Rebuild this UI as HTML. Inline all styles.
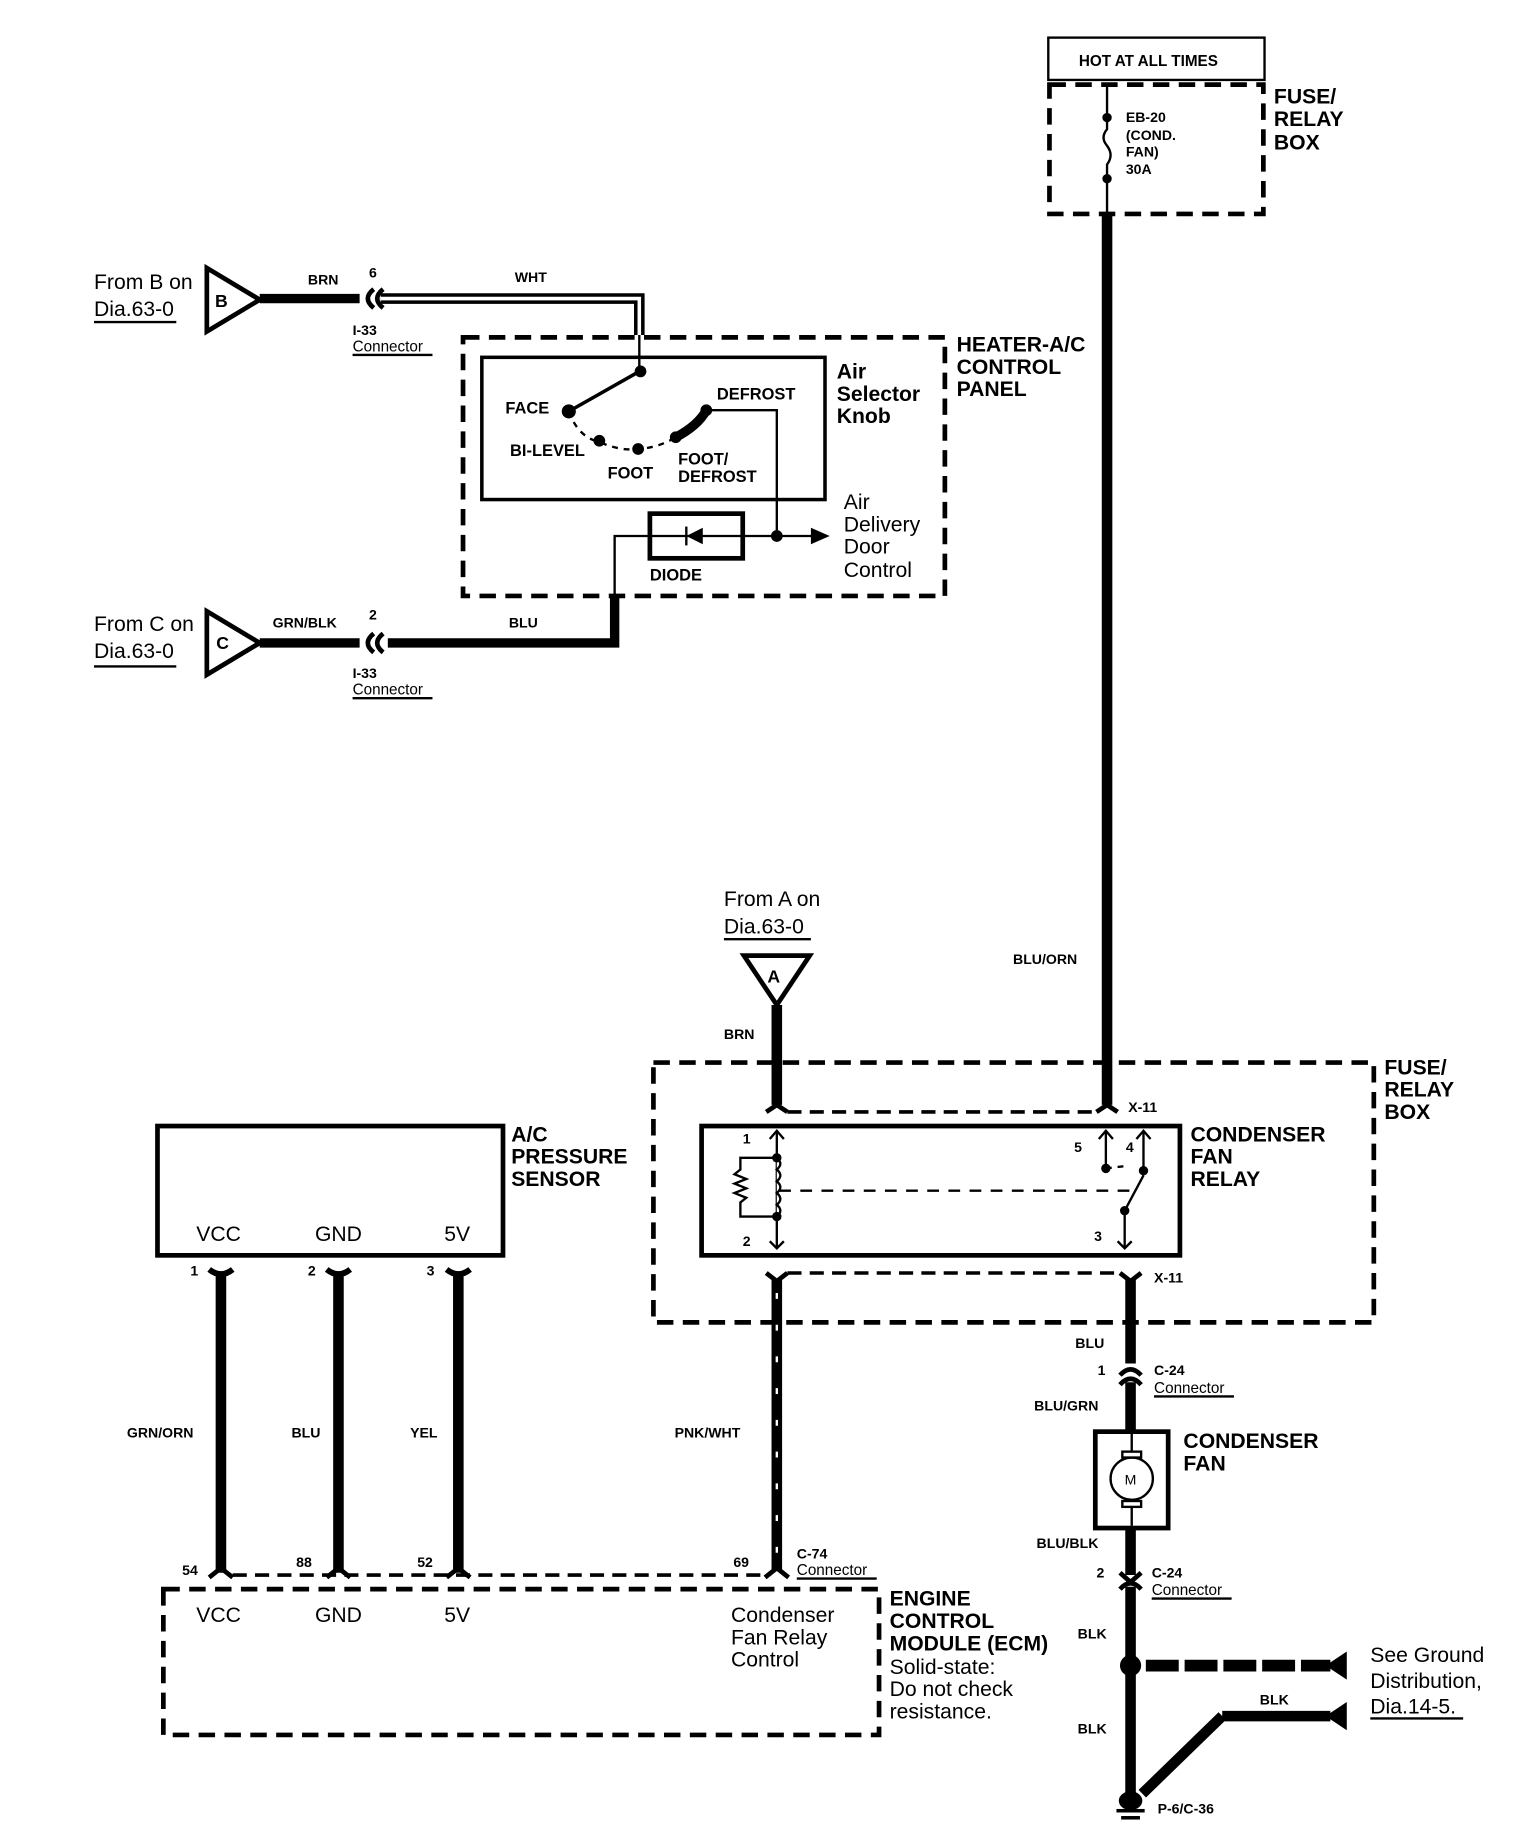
<!DOCTYPE html>
<html><head><meta charset="utf-8"><style>
html,body{margin:0;padding:0;background:#fff;}
svg{display:block;}
text{font-family:"Liberation Sans",Arial,sans-serif;fill:#000;}
.b{font-weight:bold;font-size:14px;}
.s{font-weight:bold;font-size:12px;}
.L{font-weight:bold;font-size:18px;}
.r{font-size:18px;}
.c{font-size:13px;}
</style></head><body>
<svg width="1536" height="1836" viewBox="0 0 1307 1562" preserveAspectRatio="none" xmlns="http://www.w3.org/2000/svg">
<g fill="none" stroke="#000">
<rect x="892" y="32" width="184" height="36" stroke-width="2"/>
<rect x="893" y="72" width="182" height="110" stroke-width="4" stroke-dasharray="14,8"/>
<line x1="942" y1="72" x2="942" y2="100" stroke-width="2"/>
<path d="M942,100 L942,110 Q936,117 942,124 Q948,132 942,140 L942,152" stroke-width="2"/>
<line x1="942" y1="152" x2="942" y2="182" stroke-width="2"/>
<line x1="942" y1="182" x2="942" y2="940" stroke-width="9"/>

<polygon points="176,228 176,282 221,255" stroke-width="4"/>
<line x1="221" y1="254" x2="306" y2="254" stroke-width="8"/>
<path d="M318,246 Q308,254 318,262" stroke-width="4"/>
<path d="M326,246 Q316,254 326,262" stroke-width="4"/>
<path d="M324,254 L544,254 L544,285" stroke-width="9"/>
<path d="M324,254 L544,254 L544,285" stroke="#fff" stroke-width="3"/>
<line x1="544" y1="285" x2="544" y2="316" stroke-width="2"/>

<rect x="394" y="287" width="410" height="220" stroke-width="4" stroke-dasharray="14,8"/>
<rect x="410" y="304" width="292" height="121" stroke-width="3"/>
<line x1="544" y1="316" x2="484" y2="350" stroke-width="3"/>
<path d="M484,350 Q492,372 510,376 Q528,384 543,382 Q560,381 575,372" stroke-width="2" stroke-dasharray="5,5"/>
<path d="M575,372 Q594,362 601,349" stroke-width="8"/>
<path d="M601,349 L661,349 L661,456" stroke-width="2"/>
<rect x="553" y="437" width="79" height="38" stroke-width="4"/>
<path d="M523,510 L523,456 L700,456" stroke-width="2"/>
<path d="M523,507 L523,547 L330,547" stroke-width="8"/>
<path d="M318,539 Q308,547 318,555" stroke-width="4"/>
<path d="M326,539 Q316,547 326,555" stroke-width="4"/>
<polygon points="176,520 176,574 221,547" stroke-width="4"/>
<line x1="221" y1="547" x2="306" y2="547" stroke-width="8"/>

<polygon points="633,813 689,813 661,855" stroke-width="4"/>
<line x1="661" y1="855" x2="661" y2="940" stroke-width="9"/>

<rect x="556" y="904" width="613" height="221" stroke-width="4" stroke-dasharray="14,8"/>
<line x1="670" y1="946" x2="934" y2="946" stroke-width="3" stroke-dasharray="12,7"/>
<line x1="670" y1="1083" x2="954" y2="1083" stroke-width="3" stroke-dasharray="12,7"/>
<rect x="597" y="958" width="407" height="110" stroke-width="4"/>
<path d="M652,946 L661,940 L670,946" stroke-width="4"/>
<path d="M933,946 L942,940 L951,946" stroke-width="4"/>
<line x1="661" y1="962" x2="661" y2="1062" stroke-width="2"/>
<path d="M655,969 L661,962 L667,969 M655,1056 L661,1062 L667,1056" stroke-width="2"/>
<path d="M661,985 q6,5 0,10 q6,5 0,10 q6,5 0,10 q6,5 0,10 q6,5 0,10" stroke-width="2" fill="#fff"/>
<path d="M661,985 L630,985 L630,995 l-5,4 l10,4 l-10,4 l10,4 l-10,4 l10,4 l-5,4 L630,1035 L661,1035" stroke-width="2"/>
<line x1="663" y1="1013" x2="966" y2="1013" stroke-width="2" stroke-dasharray="10,8"/>
<path d="M941,962 L941,994 M935,969 L941,962 L947,969" stroke-width="2"/>
<path d="M941,994 L958,992" stroke-width="2" stroke-dasharray="5,5"/>
<path d="M973,962 L973,1000 M967,969 L973,962 L979,969" stroke-width="2"/>
<line x1="973" y1="1000" x2="957" y2="1030" stroke-width="2"/>
<path d="M957,1030 L957,1062 M951,1056 L957,1062 L963,1056" stroke-width="2"/>
<path d="M652,1083 L661,1090 L670,1083" stroke-width="4"/>
<path d="M953,1083 L962,1090 L971,1083" stroke-width="4"/>
<line x1="661" y1="1088" x2="661" y2="1336" stroke-width="9"/>
<line x1="661" y1="1100" x2="661" y2="1330" stroke="#fff" stroke-width="2" stroke-dasharray="5,22"/>
<line x1="962" y1="1088" x2="962" y2="1160" stroke-width="9"/>

<path d="M953,1170 Q962,1160 971,1170" stroke-width="4"/>
<path d="M953,1178 Q962,1168 971,1178" stroke-width="4"/>
<line x1="962" y1="1176" x2="962" y2="1218" stroke-width="9"/>
<rect x="932" y="1218" width="62" height="82" stroke-width="4"/>
<line x1="963" y1="1220" x2="963" y2="1298" stroke-width="2"/>
<circle cx="963" cy="1258" r="18" fill="#fff" stroke-width="2"/>
<rect x="955" y="1235" width="16" height="5" fill="#fff" stroke-width="2"/>
<rect x="955" y="1277" width="16" height="5" fill="#fff" stroke-width="2"/>
<line x1="962" y1="1300" x2="962" y2="1340" stroke-width="9"/>
<path d="M953,1338 L962,1346 L971,1338" stroke-width="4"/>
<path d="M953,1352 Q962,1342 971,1352" stroke-width="4"/>
<line x1="962" y1="1350" x2="962" y2="1528" stroke-width="9"/>
<line x1="975" y1="1417" x2="1132" y2="1417" stroke-width="10" stroke-dasharray="28,5"/>
<path d="M1040,1460 L1132,1460" stroke-width="9"/>
<path d="M972,1526 L1040,1460" stroke-width="9"/>

<rect x="134" y="958" width="294" height="110" stroke-width="4"/>
<line x1="188" y1="1086" x2="188" y2="1338" stroke-width="9"/>
<line x1="288" y1="1086" x2="288" y2="1338" stroke-width="9"/>
<line x1="390" y1="1086" x2="390" y2="1338" stroke-width="9"/>
<path d="M178,1080 Q188,1088 198,1080 M278,1080 Q288,1088 298,1080 M380,1080 Q390,1088 400,1080" stroke-width="5"/>
<path d="M178,1342 L188,1334 L198,1342 M278,1342 L288,1334 L298,1342 M380,1342 L390,1334 L400,1342 M651,1342 L661,1334 L671,1342" stroke-width="4"/>
<line x1="198" y1="1340" x2="652" y2="1340" stroke-width="3" stroke-dasharray="12,7"/>
<rect x="139" y="1352" width="609" height="124" stroke-width="4" stroke-dasharray="14,8"/>

<path d="M80,274 H150 M80,567 H150 M300,302 H368 M300,594 H368 M616,799 H690 M678,1343 H746 M982,1188 H1050 M980,1360 H1048 M1166,1462 H1245" stroke-width="2"/>
</g>
<g fill="#000">
<circle cx="942" cy="100" r="4"/><circle cx="942" cy="152" r="4"/>
<circle cx="545" cy="316" r="5"/><circle cx="484" cy="350" r="6"/><circle cx="510" cy="375" r="5"/><circle cx="543" cy="382" r="5"/><circle cx="575" cy="372" r="5"/><circle cx="601" cy="349" r="5"/>
<circle cx="661" cy="456" r="5"/>
<polygon points="690,449 706,456 690,463"/>
<polygon points="584,456 598,449 598,463"/><rect x="583" y="448" width="2" height="16"/>
<circle cx="661" cy="985" r="4"/><circle cx="661" cy="1035" r="4"/>
<circle cx="941" cy="994" r="4"/><circle cx="973" cy="996" r="4"/><circle cx="957" cy="1030" r="4"/>
<circle cx="962" cy="1417" r="9"/>
<polygon points="1128,1417 1146,1405 1146,1429"/>
<polygon points="1128,1460 1146,1448 1146,1472"/>
<ellipse cx="962" cy="1532" rx="10" ry="8"/>
<rect x="950" y="1539" width="24" height="3"/><rect x="954" y="1545" width="16" height="3"/>
</g>
<text class="c" x="918" y="56" style="font-weight:bold;font-size:13px">HOT AT ALL TIMES</text>
<text class="s" x="958" y="104">EB-20</text>
<text class="s" x="958" y="119">(COND.</text>
<text class="s" x="958" y="133">FAN)</text>
<text class="s" x="958" y="148">30A</text>
<text class="L" x="1084" y="88">FUSE/</text><text class="L" x="1084" y="107">RELAY</text><text class="L" x="1084" y="127">BOX</text>
<text class="r" x="80" y="246">From B on</text><text class="r" x="80" y="269">Dia.63-0</text>
<text class="b" x="183" y="261" style="font-size:15px">B</text>
<text class="s" x="262" y="242">BRN</text><text class="s" x="314" y="236">6</text>
<text class="s" x="438" y="240">WHT</text>
<text class="s" x="300" y="285">I-33</text><text class="c" x="300" y="299">Connector</text>
<text class="L" x="814" y="299">HEATER-A/C</text><text class="L" x="814" y="318">CONTROL</text><text class="L" x="814" y="337">PANEL</text>
<text class="L" x="712" y="322">Air</text><text class="L" x="712" y="341">Selector</text><text class="L" x="712" y="360">Knob</text>
<text class="b" x="430" y="352">FACE</text>
<text class="b" x="610" y="340">DEFROST</text>
<text class="b" x="434" y="388">BI-LEVEL</text>
<text class="b" x="517" y="407">FOOT</text>
<text class="b" x="577" y="395">FOOT/</text><text class="b" x="577" y="410">DEFROST</text>
<text class="b" x="553" y="494">DIODE</text>
<text class="r" x="718" y="433">Air</text><text class="r" x="718" y="452">Delivery</text><text class="r" x="718" y="471">Door</text><text class="r" x="718" y="491">Control</text>
<text class="r" x="80" y="537">From C on</text><text class="r" x="80" y="560">Dia.63-0</text>
<text class="b" x="184" y="552" style="font-size:15px">C</text>
<text class="s" x="232" y="534">GRN/BLK</text><text class="s" x="314" y="527">2</text>
<text class="s" x="433" y="534">BLU</text>
<text class="s" x="300" y="577">I-33</text><text class="c" x="300" y="591">Connector</text>
<text class="r" x="616" y="771">From A on</text><text class="r" x="616" y="794">Dia.63-0</text>
<text class="b" x="653" y="836" style="font-size:15px">A</text>
<text class="s" x="616" y="884">BRN</text>
<text class="s" x="862" y="820">BLU/ORN</text>
<text class="L" x="1178" y="914">FUSE/</text><text class="L" x="1178" y="933">RELAY</text><text class="L" x="1178" y="952">BOX</text>
<text class="s" x="960" y="946">X-11</text><text class="s" x="982" y="1091">X-11</text>
<text class="L" x="1013" y="971">CONDENSER</text><text class="L" x="1013" y="990">FAN</text><text class="L" x="1013" y="1009">RELAY</text>
<text class="s" x="632" y="973">1</text><text class="s" x="632" y="1060">2</text>
<text class="s" x="914" y="980">5</text><text class="s" x="958" y="980">4</text><text class="s" x="931" y="1056">3</text>
<text class="L" x="435" y="971">A/C</text><text class="L" x="435" y="990">PRESSURE</text><text class="L" x="435" y="1009">SENSOR</text>
<text class="r" x="167" y="1056">VCC</text><text class="r" x="268" y="1056">GND</text><text class="r" x="378" y="1056">5V</text>
<text class="s" x="162" y="1085">1</text><text class="s" x="262" y="1085">2</text><text class="s" x="363" y="1085">3</text>
<text class="s" x="108" y="1223">GRN/ORN</text><text class="s" x="248" y="1223">BLU</text><text class="s" x="349" y="1223">YEL</text>
<text class="s" x="574" y="1223">PNK/WHT</text>
<text class="s" x="155" y="1340">54</text><text class="s" x="252" y="1333">88</text><text class="s" x="355" y="1333">52</text><text class="s" x="624" y="1333">69</text>
<text class="s" x="678" y="1326">C-74</text><text class="c" x="678" y="1340">Connector</text>
<text class="r" x="167" y="1380">VCC</text><text class="r" x="268" y="1380">GND</text><text class="r" x="378" y="1380">5V</text>
<text class="r" x="622" y="1380">Condenser</text><text class="r" x="622" y="1399">Fan Relay</text><text class="r" x="622" y="1418">Control</text>
<text class="L" x="757" y="1366">ENGINE</text><text class="L" x="757" y="1385">CONTROL</text><text class="L" x="757" y="1404">MODULE (ECM)</text>
<text class="r" x="757" y="1424">Solid-state:</text><text class="r" x="757" y="1443">Do not check</text><text class="r" x="757" y="1462">resistance.</text>
<text class="s" x="915" y="1147">BLU</text>
<text class="s" x="934" y="1170">1</text>
<text class="s" x="982" y="1170">C-24</text><text class="c" x="982" y="1185">Connector</text>
<text class="s" x="880" y="1200">BLU/GRN</text>
<text class="L" x="1007" y="1232">CONDENSER</text><text class="L" x="1007" y="1251">FAN</text>
<text x="957" y="1263" style="font-size:12px">M</text>
<text class="s" x="882" y="1317">BLU/BLK</text>
<text class="s" x="933" y="1342">2</text>
<text class="s" x="980" y="1342">C-24</text><text class="c" x="980" y="1357">Connector</text>
<text class="s" x="917" y="1394">BLK</text><text class="s" x="917" y="1475">BLK</text>
<text class="s" x="1072" y="1450">BLK</text>
<text class="r" x="1166" y="1414">See Ground</text><text class="r" x="1166" y="1436">Distribution,</text><text class="r" x="1166" y="1458">Dia.14-5.</text>
<text class="s" x="985" y="1543">P-6/C-36</text>
</svg>
</body></html>
